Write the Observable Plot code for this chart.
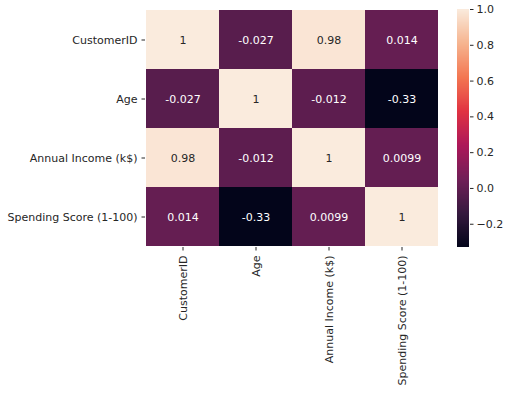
<!DOCTYPE html>
<html>
<head>
<meta charset="utf-8">
<script src="https://cdn.jsdelivr.net/npm/d3@7"></script>
<script src="https://cdn.jsdelivr.net/npm/@observablehq/plot@0.6"></script>
<style>
  html, body { margin: 0; padding: 0; background: #fff; }
  #wrap { position: relative; width: 513px; height: 393px; overflow: hidden; }
  #wrap > svg { position: absolute; top: 0; }
</style>
</head>
<body>
<div id="wrap"></div>
<script>
// ---- data ----
const labels = ["CustomerID", "Age", "Annual Income (k$)", "Spending Score (1-100)"];
const customerID = [1, -0.027, 0.98, 0.014];
const age = [-0.027, 1, -0.012, -0.33];
const annualIncome = [0.98, -0.012, 1, 0.0099];
const spendingScore = [0.014, -0.33, 0.0099, 1];
const colorbarTicks = [-0.2, 0.0, 0.2, 0.4, 0.6, 0.8, 1.0];

const matrix = [customerID, age, annualIncome, spendingScore];
const cells = [];
matrix.forEach((row, i) => row.forEach((v, j) => cells.push({row: labels[i], col: labels[j], value: v})));

const vmin = d3.min(cells, d => d.value);
const vmax = d3.max(cells, d => d.value);

// seaborn "rocket" colormap (approximation)
const rocketStops = ["#03051a", "#35193e", "#701f57", "#ad1759", "#e13342", "#f37651", "#f6b48f", "#faebdd"];
const rocket = d3.piecewise(d3.interpolateRgb, rocketStops);
const colorScale = {type: "linear", domain: [vmin, vmax], interpolate: rocket};

const font = {fontFamily: "DejaVu Sans", fontSize: "11px", color: "#262626", background: "transparent"};

const main = Plot.plot({
  width: 513,
  height: 393,
  marginLeft: 145,
  marginRight: 74,
  marginTop: 9,
  marginBottom: 146,
  style: font,
  x: {domain: labels, padding: 0, label: null},
  y: {domain: labels, padding: 0, label: null},
  color: colorScale,
  marks: [
    Plot.cell(cells, {x: "col", y: "row", fill: "value", inset: 0, shapeRendering: "crispEdges"}),
    Plot.text(cells, {
      x: "col", y: "row",
      text: d => String(d.value),
      fill: d => d.value > 0.5 ? "#262626" : "#ffffff",
      fontSize: 11
    }),
    Plot.axisY({tickSize: 3.5, tickPadding: 4.5, label: null, fontSize: 11}),
    Plot.axisX({tickSize: 3.5, tickPadding: 4.5, tickRotate: -90, label: null, fontSize: 11})
  ]
});
main.style.left = "0px";
document.getElementById("wrap").appendChild(main);

// colorbar
const nSteps = 240;
const steps = d3.range(nSteps).map(i => {
  const a = vmin + (vmax - vmin) * i / nSteps;
  const b = vmin + (vmax - vmin) * (i + 1) / nSteps;
  return {y1: a, y2: b, v: (a + b) / 2};
});

const bar = Plot.plot({
  width: 56,
  height: 256,
  marginLeft: 0,
  marginRight: 44,
  marginTop: 9,
  marginBottom: 9,
  style: font,
  x: {domain: [0, 1], axis: null},
  y: {domain: [vmin, vmax], label: null},
  color: colorScale,
  marks: [
    Plot.rect(steps, {x1: 0, x2: 1, y1: "y1", y2: "y2", fill: "v", shapeRendering: "crispEdges", insetTop: -0.3, insetBottom: -0.3}),
    Plot.axisY({anchor: "right", ticks: colorbarTicks, tickFormat: d3.format(".1f"), tickSize: 3.5, tickPadding: 3.5, label: null, fontSize: 11})
  ]
});
bar.style.left = "457px";
document.getElementById("wrap").appendChild(bar);
</script>
</body>
</html>
